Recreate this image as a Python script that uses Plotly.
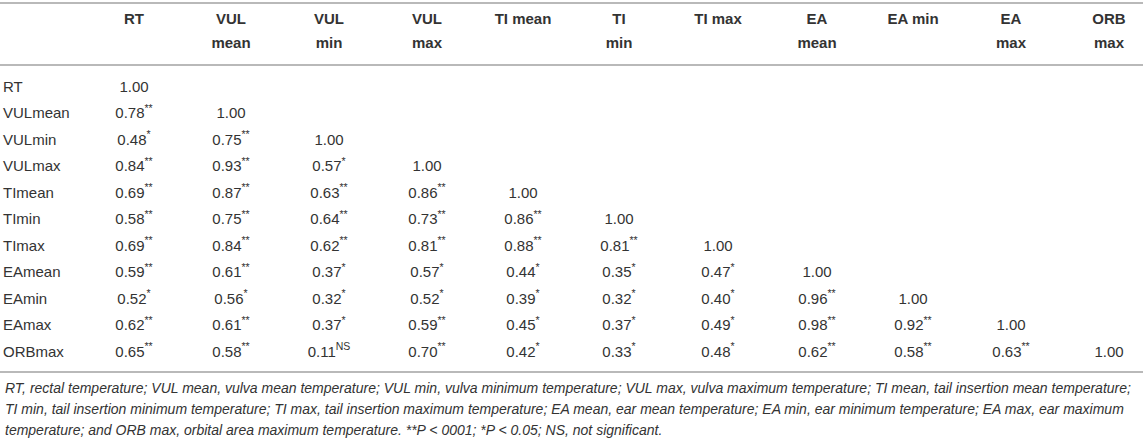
import plotly.graph_objects as go

# correlation table (lower triangle)
row_names = ['RT', 'VULmean', 'VULmin', 'VULmax', 'TImean', 'TImin',
             'TImax', 'EAmean', 'EAmin', 'EAmax', 'ORBmax']
head_top = ['RT', 'VUL', 'VUL', 'VUL', 'TI mean', 'TI', 'TI max',
            'EA', 'EA min', 'EA', 'ORB']
head_bot = ['', 'mean', 'min', 'max', '', 'min', '', 'mean', '', 'max', 'max']

r_vals = [
    [1.00],
    [0.78, 1.00],
    [0.48, 0.75, 1.00],
    [0.84, 0.93, 0.57, 1.00],
    [0.69, 0.87, 0.63, 0.86, 1.00],
    [0.58, 0.75, 0.64, 0.73, 0.86, 1.00],
    [0.69, 0.84, 0.62, 0.81, 0.88, 0.81, 1.00],
    [0.59, 0.61, 0.37, 0.57, 0.44, 0.35, 0.47, 1.00],
    [0.52, 0.56, 0.32, 0.52, 0.39, 0.32, 0.40, 0.96, 1.00],
    [0.62, 0.61, 0.37, 0.59, 0.45, 0.37, 0.49, 0.98, 0.92, 1.00],
    [0.65, 0.58, 0.11, 0.70, 0.42, 0.33, 0.48, 0.62, 0.58, 0.63, 1.00],
]
sig = [
    [''],
    ['**', ''],
    ['*', '**', ''],
    ['**', '**', '*', ''],
    ['**', '**', '**', '**', ''],
    ['**', '**', '**', '**', '**', ''],
    ['**', '**', '**', '**', '**', '**', ''],
    ['**', '**', '*', '*', '*', '*', '*', ''],
    ['*', '*', '*', '*', '*', '*', '*', '**', ''],
    ['**', '**', '*', '**', '*', '*', '*', '**', '**', ''],
    ['**', '**', 'NS', '**', '*', '*', '*', '**', '**', '**', ''],
]

footnote = [
    'RT, rectal temperature; VUL mean, vulva mean temperature; VUL min, vulva minimum temperature; '
    'VUL max, vulva maximum temperature; TI mean, tail insertion mean temperature;',
    'TI min, tail insertion minimum temperature; TI max, tail insertion maximum temperature; '
    'EA mean, ear mean temperature; EA min, ear minimum temperature; EA max, ear maximum',
    'temperature; and ORB max, orbital area maximum temperature. **P < 0001; *P < 0.05; NS, not significant.',
]

# layout (pixel-like coordinates)
col_x = [134, 231, 329, 427, 523, 619, 718, 817, 913, 1011, 1109]
row_y0, row_dy = 88, 26.5
label_x = 3
txt_color = '#333333'
rule_color = '#b9b9b9'
font_family = 'Liberation Sans, Arial, sans-serif'

fig = go.Figure()

# headers
fig.add_trace(go.Scatter(
    x=col_x, y=[20] * len(col_x), mode='text',
    text=['<b>%s</b>' % h for h in head_top],
    textposition='middle center',
    textfont=dict(family=font_family, size=15, color=txt_color),
    hoverinfo='skip'))
fig.add_trace(go.Scatter(
    x=col_x, y=[44] * len(col_x), mode='text',
    text=['<b>%s</b>' % h for h in head_bot],
    textposition='middle center',
    textfont=dict(family=font_family, size=15, color=txt_color),
    hoverinfo='skip'))

# row labels
row_y = [row_y0 + i * row_dy for i in range(len(row_names))]
fig.add_trace(go.Scatter(
    x=[label_x] * len(row_names), y=row_y, mode='text',
    text=row_names, textposition='middle right',
    textfont=dict(family=font_family, size=15, color=txt_color),
    hoverinfo='skip'))

# values
xs, ys, ts = [], [], []
for i, row in enumerate(r_vals):
    for j, v in enumerate(row):
        xs.append(col_x[j])
        ys.append(row_y[i])
        s = sig[i][j]
        ts.append('%.2f' % v + ('<sup>%s</sup>' % s if s else ''))
fig.add_trace(go.Scatter(
    x=xs, y=ys, mode='text', text=ts, textposition='middle center',
    textfont=dict(family=font_family, size=15, color=txt_color),
    hoverinfo='skip'))

# rules
for yy in [3, 65, 372]:
    fig.add_shape(type='line', x0=0, x1=1143, y0=yy, y1=yy,
                  line=dict(color=rule_color, width=2))

# footnote
for k, line in enumerate(footnote):
    fig.add_annotation(x=label_x, y=388 + k * 21, text='<i>%s</i>' % line,
                       showarrow=False, xanchor='left', yanchor='middle',
                       font=dict(family=font_family, size=14, color=txt_color))

fig.update_layout(
    width=1143, height=440,
    margin=dict(l=0, r=0, t=0, b=0),
    paper_bgcolor='white', plot_bgcolor='white',
    showlegend=False,
    xaxis=dict(range=[0, 1143], visible=False, fixedrange=True),
    yaxis=dict(range=[440, 0], visible=False, fixedrange=True),
)

fig.write_html('out.html', config={'displayModeBar': False},
               post_script="document.body.style.margin='0';")
